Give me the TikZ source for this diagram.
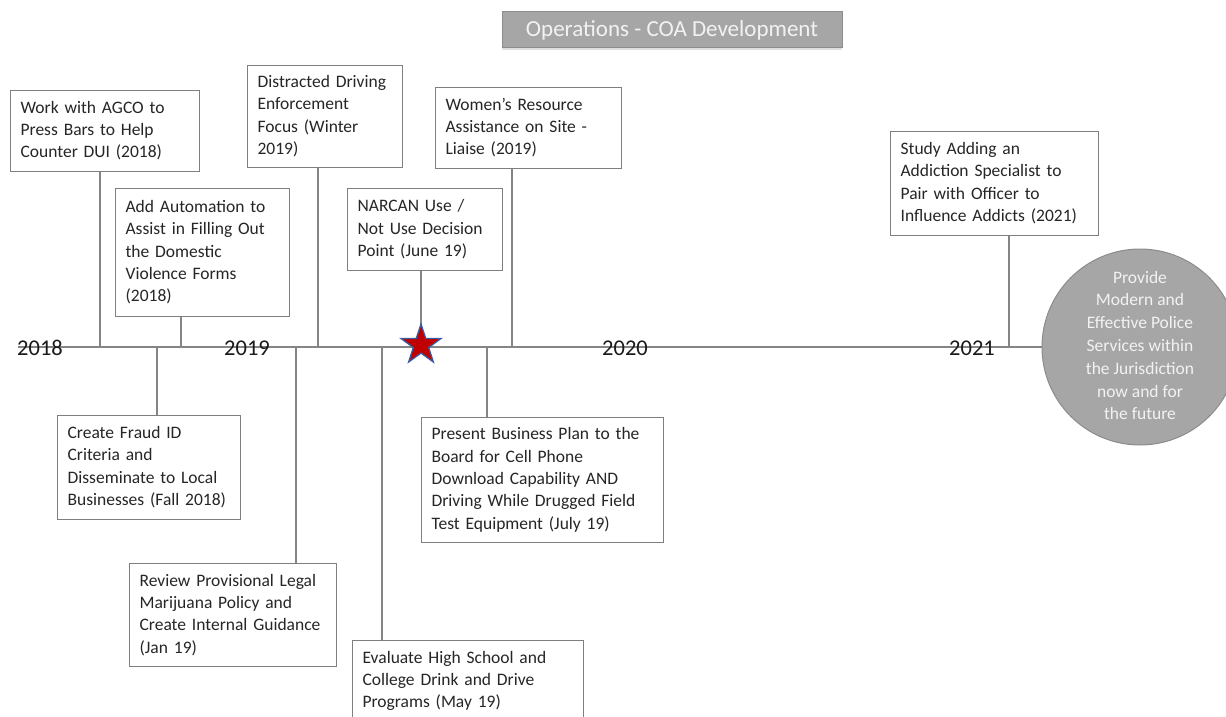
\documentclass[tikz,border=0pt]{standalone}
\usepackage{fontspec}
\setmainfont{Carlito}
\usetikzlibrary{shapes.geometric,shadows}
\definecolor{linegray}{HTML}{858585}
\definecolor{boxline}{HTML}{7F7F7F}
\definecolor{fillgray}{HTML}{A6A6A6}
\definecolor{circline}{HTML}{8C8C8C}
\definecolor{txt}{HTML}{262626}
\definecolor{yeartxt}{HTML}{1A1A1A}
\definecolor{lighttxt}{HTML}{F2F2F2}
\definecolor{starred}{HTML}{C00000}
\definecolor{starblue}{HTML}{3C5AA0}
\newcommand{\evlines}[1]{\begin{tabular}{@{}l@{}}#1\end{tabular}}
\newcommand{\cclines}[1]{\begin{tabular}{@{}c@{}}#1\end{tabular}}
\begin{document}
\begin{tikzpicture}[x=1pt,y=-1pt,
  evbox/.style={draw=boxline, line width=1.2pt, fill=white, anchor=north west,
    inner xsep=10pt, inner ysep=0pt, text=txt,
    font=\fontsize{17.5}{22.3}\selectfont},
  conn/.style={draw=linegray, line width=1.2pt},
  yearlbl/.style={text=yeartxt, font=\fontsize{22.5}{26}\selectfont, inner sep=0pt}]
\useasboundingbox (0,0) rectangle (1226,717);
\fill[white] (0,0) rectangle (1226,717);

% title
\node[fill=fillgray, draw=circline, line width=1pt, minimum width=340pt, minimum height=36pt,
  text=lighttxt, font=\fontsize{23}{28}\selectfont, inner sep=0pt,
  drop shadow={opacity=0.25, shadow xshift=0pt, shadow yshift=-2pt}] (title) at (672,30) {Operations - COA Development};

% goal circle
\node[circle, fill=fillgray, draw=circline, line width=1pt, minimum size=196pt, inner sep=0pt,
  text=lighttxt, font=\fontsize{17.5}{22.8}\selectfont] (goal) at (1140,347)
  {\cclines{Provide\\Modern and\\Effective Police\\Services within\\the Jurisdiction\\now and for\\the future}};

% event boxes above
\node[evbox, minimum width=189pt, minimum height=81pt, text width=169pt] (b1) at (10,90)
  {\evlines{Work with AGCO to\\Press Bars to Help\\Counter DUI (2018)}};
\node[evbox, minimum width=174pt, minimum height=128pt, text width=154pt] (b2) at (115,188)
  {\evlines{Add Automation to\\Assist in Filling Out\\the Domestic\\Violence Forms\\(2018)}};
\node[evbox, minimum width=155pt, minimum height=102pt, text width=135pt] (b3) at (247,65)
  {\evlines{Distracted Driving\\Enforcement\\Focus (Winter\\2019)}};
\node[evbox, minimum width=155pt, minimum height=82pt, text width=135pt] (b4) at (347,188)
  {\evlines{NARCAN Use /\\Not Use Decision\\Point (June 19)}};
\node[evbox, minimum width=186pt, minimum height=81pt, text width=166pt] (b5) at (435,87)
  {\evlines{Women’s Resource\\Assistance on Site -\\Liaise (2019)}};
\node[evbox, minimum width=208pt, minimum height=104pt, text width=188pt] (b6) at (890,131)
  {\evlines{Study Adding an\\Addiction Specialist to\\Pair with Officer to\\Influence Addicts (2021)}};

% event boxes below
\node[evbox, minimum width=183pt, minimum height=104pt, text width=163pt] (b7) at (57,415)
  {\evlines{Create Fraud ID\\Criteria and\\Disseminate to Local\\Businesses (Fall 2018)}};
\node[evbox, minimum width=207pt, minimum height=103pt, text width=187pt] (b8) at (129,563)
  {\evlines{Review Provisional Legal\\Marijuana Policy and\\Create Internal Guidance\\(Jan 19)}};
\node[evbox, minimum width=231pt, minimum height=81pt, text width=211pt] (b9) at (352,640)
  {\evlines{Evaluate High School and\\College Drink and Drive\\Programs (May 19)}};
\node[evbox, minimum width=242pt, minimum height=125pt, text width=222pt] (b10) at (421,417)
  {\evlines{Present Business Plan to the\\Board for Cell Phone\\Download Capability AND\\Driving While Drugged Field\\Test Equipment (July 19)}};

% timeline points
\coordinate (ax0) at (18,347);
\coordinate (a1) at (100,347);
\coordinate (a2) at (181,347);
\coordinate (a3) at (318,347);
\coordinate (a4) at (421,347);
\coordinate (a5) at (512,347);
\coordinate (a6) at (1009,347);
\coordinate (a7) at (157,347);
\coordinate (a8) at (296,347);
\coordinate (a9) at (382,347);
\coordinate (a10) at (487,347);

% axis and connectors
\draw[conn] (ax0) -- (goal.west);
\foreach \i in {1,2,3,4,5,6}{\draw[conn] (b\i.south -| a\i) -- (a\i);}
\foreach \i in {7,8,9,10}{\draw[conn] (a\i) -- (b\i.north -| a\i);}

% star
\node[star, star points=5, star point ratio=2.6, minimum size=42pt, inner sep=0pt,
  fill=starred, draw=starblue, line width=1.3pt] (star) at (421,345) {};

% years
\node[yearlbl] (y18) at (40,348) {2018};
\node[yearlbl] (y19) at (247,348) {2019};
\node[yearlbl] (y20) at (625,348) {2020};
\node[yearlbl] (y21) at (972,348) {2021};
\end{tikzpicture}
\end{document}
